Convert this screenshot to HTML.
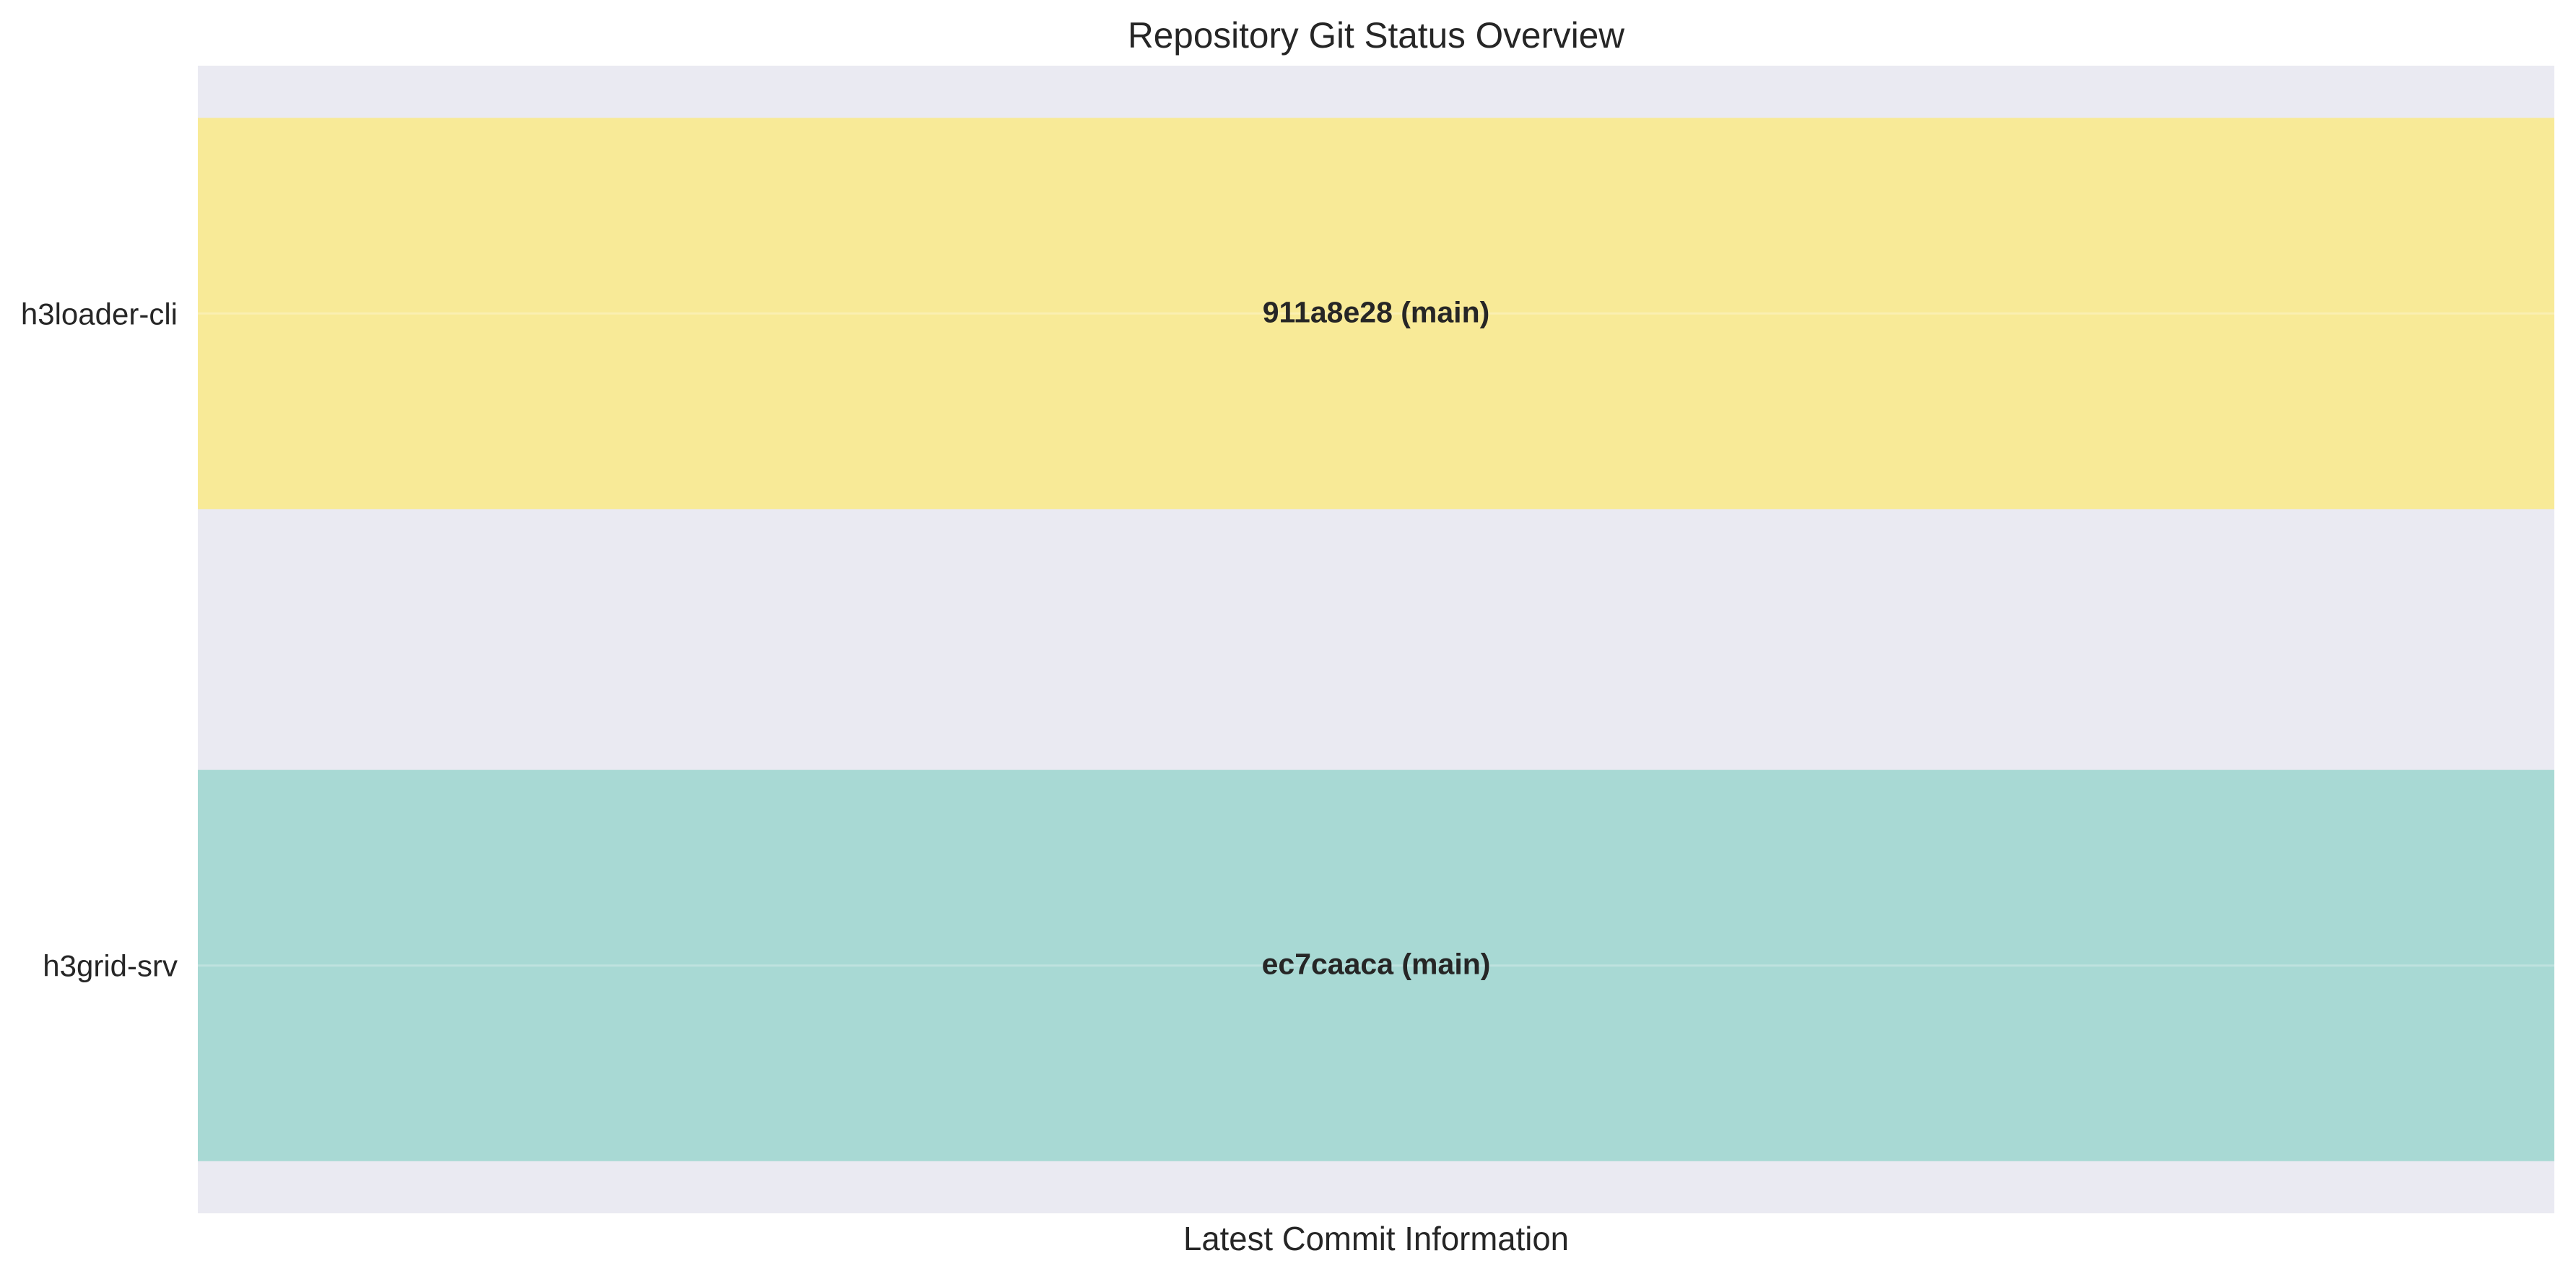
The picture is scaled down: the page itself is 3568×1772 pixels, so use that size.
<!DOCTYPE html>
<html><head><meta charset="utf-8"><style>html,body{margin:0;padding:0;background:#fff;}svg{display:block;}</style></head>
<body>
<svg id="chart" width="3568" height="1772" viewBox="0 0 3568 1772" xmlns="http://www.w3.org/2000/svg" font-family="'Liberation Sans', Arial, sans-serif">
<rect width="3568" height="1772" fill="#ffffff"/>
<rect x="274" y="91" width="3264" height="1590" fill="#EAEAF2"/>
<text x="1906" y="66" text-anchor="middle" font-size="50" fill="#262626" textLength="688" lengthAdjust="spacingAndGlyphs">Repository Git Status Overview</text>
<text x="1906" y="1732" text-anchor="middle" font-size="46" fill="#262626" textLength="534" lengthAdjust="spacingAndGlyphs">Latest Commit Information</text>
<g id="bars"></g>
</svg>
<script>
const repos = ['h3loader-cli', 'h3grid-srv'];
const commits = ['911a8e28 (main)', 'ec7caaca (main)'];
const values = [1, 1];
const colors = ['#F8EA97', '#A8D9D4'];

const L = 274, R = 3538, T = 91, B = 1681;
const yMin = -0.38, yMax = 1.38, barH = 0.6;
const xMax = 1;
function y(v){ return T + (v - yMin) / (yMax - yMin) * (B - T); }
function x(v){ return L + v / xMax * (R - L); }
const ns = 'http://www.w3.org/2000/svg';
const g = document.getElementById('bars');
repos.forEach((r, i) => {
  const rect = document.createElementNS(ns, 'rect');
  rect.setAttribute('x', x(0));
  rect.setAttribute('y', y(i - barH/2));
  rect.setAttribute('width', x(values[i]) - x(0));
  rect.setAttribute('height', y(i + barH/2) - y(i - barH/2));
  rect.setAttribute('fill', colors[i]);
  
  
  g.appendChild(rect);
  const grid = document.createElementNS(ns, 'line');
  grid.setAttribute('x1', L); grid.setAttribute('x2', R);
  grid.setAttribute('y1', y(i)); grid.setAttribute('y2', y(i));
  grid.setAttribute('stroke', '#ffffff'); grid.setAttribute('stroke-opacity', '0.25'); grid.setAttribute('stroke-width', '3');
  
  
  g.appendChild(grid);
  const lab = document.createElementNS(ns, 'text');
  lab.setAttribute('x', 246); lab.setAttribute('y', y(i) + 15);
  lab.setAttribute('text-anchor', 'end'); lab.setAttribute('font-size', '42'); lab.setAttribute('fill', '#262626');
  lab.textContent = r;
  
  
  g.appendChild(lab);
  const t = document.createElementNS(ns, 'text');
  t.setAttribute('x', (x(0) + x(values[i])) / 2); t.setAttribute('y', y(i) + 12);
  t.setAttribute('text-anchor', 'middle'); t.setAttribute('font-size', '41'); t.setAttribute('font-weight', 'bold'); t.setAttribute('fill', '#262626');
  t.textContent = commits[i];
  
  
  g.appendChild(t);
});
</script>
</body></html>
